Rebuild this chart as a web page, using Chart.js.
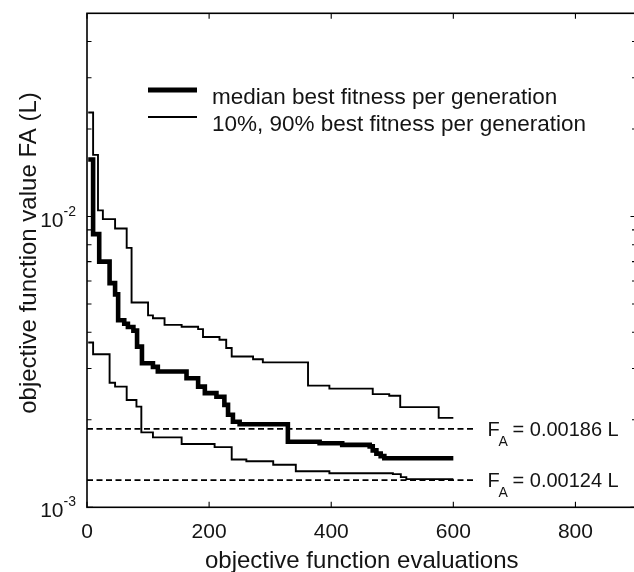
<!DOCTYPE html>
<html>
<head>
<meta charset="utf-8">
<script src="https://cdn.jsdelivr.net/npm/chart.js@4/dist/chart.umd.min.js"></script>
<style>
html,body{margin:0;padding:0;background:#fff;overflow:hidden;width:634px;height:572px;}
canvas{display:block;}
</style>
</head>
<body>
<canvas id="c" width="644" height="572"></canvas>
<script>
// ---- data ----
const evalsUpper = [2,10,18,26,46,65,73,100,108,127,155,182,190,217,228,237,272,288,362,397,468,495,513,576,600];
const fitUpper   = [0.0228,0.0163,0.0105,0.0098,0.0091,0.0078,0.00506,0.00457,0.00447,0.00424,0.00418,0.00410,0.00385,0.00377,0.00353,0.00330,0.00323,0.00315,0.00262,0.00256,0.00245,0.00242,0.00221,0.00203,0.00203];

const evalsMedian = [2,10,20,37,46,51,61,67,76,82,90,108,116,163,182,193,212,225,231,239,250,329,381,418,463,468,474,481,487,600];
const fitMedian   = [0.0157,0.0087,0.0070,0.0059,0.0054,0.0044,0.00428,0.00417,0.00405,0.00357,0.00313,0.00304,0.00293,0.00278,0.00260,0.00247,0.00240,0.00225,0.00208,0.00197,0.00193,0.00168,0.00166,0.00164,0.00162,0.00157,0.00153,0.00150,0.001475,0.001475];

const evalsLower = [2,10,37,46,65,81,89,108,155,209,237,261,305,342,397,501,514,523,600];
const fitLower   = [0.00369,0.00336,0.00268,0.00260,0.00234,0.00222,0.00181,0.00174,0.00165,0.00161,0.00146,0.00144,0.00140,0.00133,0.00131,0.00130,0.00127,0.00125,0.00125];

const thresholds = [0.00186, 0.00124];
const thresholdLabels = ['0.00186 L', '0.00124 L'];
const thresholdRange = [0, 638];

const xTicks = [0, 200, 400, 600, 800];
const yMajorTicks = [0.001, 0.01];
const yMinorTicks = [0.002,0.003,0.004,0.005,0.006,0.007,0.008,0.009,0.02,0.03,0.04];

const legendLabels = ['median best fitness per generation', '10%, 90% best fitness per generation'];
const xTitle = 'objective function evaluations';
const yTitle = 'objective function value FA (L)';

// ---- chart ----
const FONT = '"Liberation Sans", Arial, Helvetica, sans-serif';
const TXT = '#141414';
const pts = (xs, ys) => xs.map((v, i) => ({x: v, y: ys[i]}));

const matlabAxes = {
  id: 'matlabAxes',
  afterDatasetsDraw(chart) {
    const {ctx, chartArea: a, scales: {x, y}} = chart;
    ctx.save();
    // box
    ctx.strokeStyle = '#000';
    ctx.lineWidth = 1.6;
    ctx.strokeRect(a.left, a.top, a.right - a.left, a.bottom - a.top);
    // ticks (inward, mirrored)
    ctx.lineWidth = 1.1;
    ctx.beginPath();
    xTicks.forEach(v => {
      const px = x.getPixelForValue(v);
      ctx.moveTo(px, a.bottom); ctx.lineTo(px, a.bottom - 5.5);
      ctx.moveTo(px, a.top); ctx.lineTo(px, a.top + 5.5);
    });
    yMajorTicks.forEach(v => {
      const py = y.getPixelForValue(v);
      ctx.moveTo(a.left, py); ctx.lineTo(a.left + 6, py);
      ctx.moveTo(a.right, py); ctx.lineTo(a.right - 6, py);
    });
    yMinorTicks.forEach(v => {
      const py = y.getPixelForValue(v);
      ctx.moveTo(a.left, py); ctx.lineTo(a.left + 4.5, py);
      ctx.moveTo(a.right, py); ctx.lineTo(a.right - 4.5, py);
    });
    ctx.stroke();

    ctx.fillStyle = TXT;
    // x tick labels
    ctx.font = `21px ${FONT}`;
    ctx.textAlign = 'center';
    ctx.textBaseline = 'alphabetic';
    xTicks.forEach(v => ctx.fillText(String(v), x.getPixelForValue(v), a.bottom + 31));
    // y tick labels 10^n
    yMajorTicks.forEach(v => {
      const py = y.getPixelForValue(v);
      const e = String(Math.round(Math.log10(v)));
      ctx.font = `14px ${FONT}`;
      ctx.textAlign = 'right';
      const supRight = a.left - 11;
      ctx.fillText(e, supRight, py - 1);
      const w = ctx.measureText(e).width;
      ctx.font = `21px ${FONT}`;
      ctx.fillText('10', supRight - w, py + 10);
    });

    // threshold labels
    thresholds.forEach((t, i) => {
      const py = y.getPixelForValue(t);
      const px = x.getPixelForValue(thresholdRange[1]) + 11;
      ctx.textAlign = 'left';
      ctx.font = `20px ${FONT}`;
      ctx.fillText('F', px, py + 7);
      ctx.font = `14px ${FONT}`;
      ctx.fillText('A', px + 11, py + 17);
      ctx.font = `20px ${FONT}`;
      ctx.fillText('= ' + thresholdLabels[i], px + 25, py + 7);
    });

    // legend
    const lx0 = 148, lx1 = 197;
    const rows = [{y: 90, w: 5}, {y: 117, w: 2}];
    rows.forEach((r, i) => {
      ctx.strokeStyle = '#000';
      ctx.lineWidth = r.w;
      ctx.beginPath(); ctx.moveTo(lx0, r.y); ctx.lineTo(lx1, r.y); ctx.stroke();
      ctx.font = `22.5px ${FONT}`;
      ctx.textAlign = 'left';
      ctx.fillText(legendLabels[i], 212, r.y + 14);
    });

    // axis titles
    ctx.font = `24px ${FONT}`;
    ctx.textAlign = 'center';
    ctx.textBaseline = 'middle';
    ctx.fillText(xTitle, (a.left + a.right) / 2, 561);
    ctx.translate(29, 253);
    ctx.rotate(-Math.PI / 2);
    ctx.fillText(yTitle, 0, 0);
    ctx.restore();
  }
};

const thin = {borderColor: '#000', borderWidth: 1.9, pointRadius: 0, stepped: 'before', fill: false, borderJoinStyle: 'miter'};

new Chart(document.getElementById('c'), {
  type: 'line',
  data: {
    datasets: [
      Object.assign({label: 'upper', data: pts(evalsUpper, fitUpper)}, thin),
      Object.assign({label: 'lower', data: pts(evalsLower, fitLower)}, thin),
      {label: 'median', data: pts(evalsMedian, fitMedian), borderColor: '#000', borderWidth: 4.6, pointRadius: 0, stepped: 'before', fill: false, borderJoinStyle: 'miter'},
      ...thresholds.map(t => ({label: 'FA ' + t, data: thresholdRange.map(v => ({x: v, y: t})), borderColor: '#000', borderWidth: 1.8, borderDash: [6, 3.5], pointRadius: 0, fill: false}))
    ]
  },
  options: {
    responsive: false,
    animation: false,
    devicePixelRatio: 1,
    layout: {padding: {left: 87, top: 13.3, right: 7.5, bottom: 64.7}},
    plugins: {legend: {display: false}, tooltip: {enabled: false}},
    scales: {
      x: {type: 'linear', min: 0, max: 900, display: false},
      y: {type: 'logarithmic', min: 0.001, max: 0.05, display: false}
    }
  },
  plugins: [matlabAxes]
});
</script>
</body>
</html>
